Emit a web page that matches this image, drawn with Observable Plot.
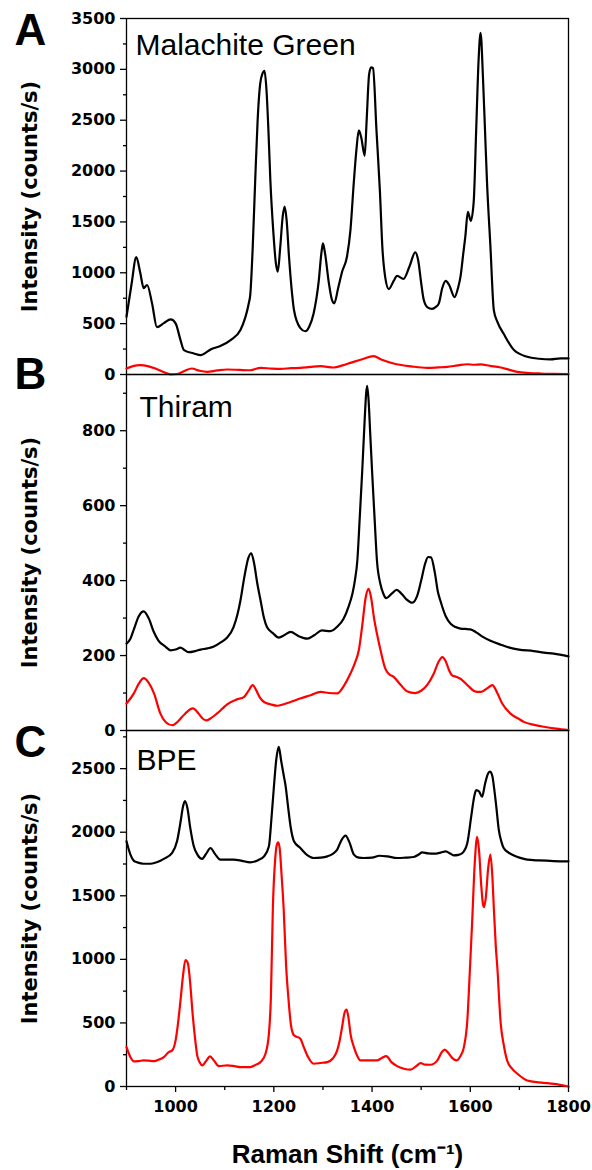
<!DOCTYPE html>
<html><head><meta charset="utf-8">
<script src="https://cdn.jsdelivr.net/npm/d3@7"></script>
<script src="https://cdn.jsdelivr.net/npm/@observablehq/plot@0.6"></script>
<style>
body{margin:0;background:#fff;}
#chart{position:relative;width:592px;height:1170px;}
</style></head><body><div id="chart"></div>
<script>
// ---- tick values ----
const xMajorTicks = [1000, 1200, 1400, 1600, 1800];
const xMinorTicks = [900, 1100, 1300, 1500, 1700];
const aMajorTicks = [0, 500, 1000, 1500, 2000, 2500, 3000, 3500];
const aMinorTicks = [250, 750, 1250, 1750, 2250, 2750, 3250];
const bMajorTicks = [0, 200, 400, 600, 800];
const bMinorTicks = [100, 300, 500, 700, 900];
const cMajorTicks = [0, 500, 1000, 1500, 2000, 2500];
const cMinorTicks = [250, 750, 1250, 1750, 2250, 2750];

// ---- panel labels ----
const panelLetters = ["A", "B", "C"];
const sampleNames = ["Malachite Green", "Thiram", "BPE"];
const yTitle = "Intensity (counts/s)";
const xTitle = "Raman Shift (cm\u207B\u00B9)";

// ---- spectra: [Raman shift, intensity] ----
const malachiteBlack = [[900,568],[910,880],[920,1154],[928,1000],[935,850],[942,880],[952,700],[962,465],[976,505],[990,542],[1000,503],[1010,338],[1017,240],[1037,207],[1051,190],[1061,213],[1071,246],[1091,279],[1112,338],[1132,437],[1149,700],[1152,782],[1157,1250],[1162,1900],[1167,2500],[1172,2850],[1177,2960],[1181,2985],[1185,2800],[1189,2400],[1193,1900],[1199,1400],[1204,1100],[1208,1010],[1213,1250],[1218,1550],[1222,1650],[1226,1520],[1231,1150],[1237,800],[1241,634],[1254,456],[1264,425],[1272,470],[1281,600],[1291,900],[1297,1200],[1300,1290],[1304,1200],[1312,900],[1318,740],[1323,700],[1331,850],[1339,1010],[1349,1160],[1356,1420],[1363,1900],[1368,2200],[1373,2400],[1378,2330],[1385,2150],[1389,2500],[1394,2950],[1398,3020],[1402,3010],[1409,2400],[1416,1800],[1421,1250],[1427,950],[1434,840],[1444,920],[1451,970],[1464,940],[1476,1060],[1488,1200],[1494,1120],[1500,900],[1505,740],[1513,660],[1522,645],[1530,665],[1536,700],[1543,850],[1550,920],[1557,880],[1568,760],[1575,850],[1580,960],[1586,1200],[1590,1360],[1595,1600],[1601,1510],[1607,1700],[1612,2400],[1617,3100],[1621,3360],[1626,2900],[1630,2400],[1634,1900],[1641,1260],[1648,630],[1655,520],[1668,400],[1689,240],[1716,174],[1740,155],[1763,148],[1784,158],[1800,158]];
const malachiteRed = [[900,59],[915,85],[928,92],[945,80],[959,59],[975,25],[990,2],[1003,5],[1018,35],[1033,59],[1048,38],[1064,26],[1085,40],[1105,49],[1130,45],[1152,42],[1173,65],[1195,58],[1214,55],[1235,62],[1254,65],[1275,75],[1295,82],[1322,69],[1340,90],[1356,114],[1380,150],[1403,180],[1420,145],[1444,108],[1480,80],[1512,65],[1535,70],[1553,75],[1575,90],[1594,101],[1608,96],[1621,99],[1640,85],[1662,69],[1680,45],[1696,26],[1720,15],[1743,10],[1770,7],[1800,5]];
const thiramBlack = [[900,232],[908,245],[915,270],[925,305],[935,318],[945,300],[955,265],[965,240],[978,225],[990,214],[1000,216],[1010,221],[1018,215],[1027,209],[1040,212],[1051,216],[1065,219],[1078,224],[1092,235],[1105,248],[1118,276],[1126,310],[1132,347],[1140,410],[1148,460],[1154,473],[1160,445],[1166,395],[1173,347],[1180,300],[1186,276],[1198,260],[1210,248],[1222,255],[1234,263],[1250,252],[1268,245],[1283,255],[1298,267],[1315,265],[1330,278],[1342,298],[1352,330],[1360,365],[1365,400],[1370,453],[1375,570],[1380,693],[1385,830],[1388,900],[1390,920],[1393,880],[1396,800],[1400,693],[1405,570],[1410,453],[1417,391],[1423,365],[1429,353],[1440,365],[1450,375],[1460,365],[1470,350],[1482,341],[1492,360],[1500,400],[1508,445],[1514,463],[1520,462],[1528,420],[1534,370],[1539,347],[1550,305],[1560,285],[1570,276],[1580,272],[1590,271],[1600,270],[1612,262],[1624,251],[1640,240],[1662,229],[1680,221],[1699,216],[1729,212],[1750,208],[1770,205],[1800,198]];
const thiramRed = [[900,72],[915,99],[925,125],[935,140],[945,128],[956,99],[969,45],[980,22],[993,14],[1003,22],[1013,36],[1025,52],[1035,59],[1047,45],[1055,32],[1062,27],[1072,33],[1084,45],[1095,58],[1105,70],[1125,83],[1139,89],[1148,105],[1157,121],[1165,105],[1172,87],[1180,76],[1193,70],[1207,66],[1220,70],[1234,76],[1255,86],[1275,94],[1295,103],[1312,100],[1329,99],[1343,120],[1356,152],[1365,180],[1373,214],[1380,280],[1387,355],[1393,378],[1398,355],[1404,300],[1410,258],[1418,210],[1427,165],[1435,150],[1444,143],[1458,122],[1471,105],[1488,100],[1500,106],[1512,121],[1525,150],[1535,182],[1543,196],[1550,185],[1557,160],[1563,147],[1572,143],[1580,138],[1595,120],[1607,106],[1614,103],[1622,103],[1635,113],[1645,121],[1655,100],[1665,72],[1682,45],[1700,30],[1709,23],[1730,15],[1750,10],[1775,5],[1800,1]];
const bpeBlack = [[900,1929],[908,1824],[915,1775],[922,1763],[935,1752],[949,1752],[963,1765],[976,1790],[993,1837],[1003,1930],[1010,2080],[1015,2200],[1019,2244],[1024,2190],[1030,2030],[1037,1889],[1045,1820],[1054,1790],[1062,1830],[1071,1876],[1080,1830],[1091,1784],[1105,1784],[1118,1784],[1135,1775],[1152,1763],[1168,1780],[1180,1810],[1190,1889],[1195,2100],[1200,2350],[1205,2573],[1210,2671],[1215,2560],[1220,2450],[1224,2363],[1229,2200],[1234,2047],[1241,1929],[1254,1876],[1268,1820],[1281,1797],[1295,1800],[1309,1810],[1320,1830],[1329,1863],[1338,1940],[1346,1973],[1354,1920],[1363,1824],[1373,1800],[1383,1797],[1400,1800],[1415,1815],[1431,1810],[1451,1797],[1468,1800],[1485,1805],[1495,1825],[1502,1842],[1514,1833],[1526,1831],[1540,1840],[1550,1850],[1560,1830],[1566,1818],[1576,1822],[1584,1837],[1594,1916],[1602,2126],[1608,2280],[1612,2331],[1618,2320],[1624,2279],[1630,2380],[1636,2460],[1640,2476],[1645,2440],[1648,2363],[1653,2200],[1658,2021],[1663,1930],[1668,1876],[1678,1840],[1689,1816],[1700,1800],[1716,1784],[1740,1778],[1770,1773],[1800,1771]];
const bpeRed = [[900,310],[908,231],[915,197],[925,200],[935,205],[945,203],[956,200],[966,212],[976,231],[986,271],[993,284],[1000,363],[1005,500],[1010,679],[1015,870],[1020,995],[1025,968],[1030,800],[1034,600],[1039,400],[1044,245],[1049,190],[1054,166],[1062,200],[1070,237],[1078,205],[1088,160],[1105,166],[1120,160],[1132,153],[1152,153],[1163,170],[1173,192],[1183,258],[1190,416],[1194,700],[1198,1400],[1203,1800],[1206,1900],[1209,1921],[1212,1870],[1216,1650],[1220,1400],[1225,950],[1230,679],[1235,480],[1241,403],[1254,376],[1261,310],[1270,230],[1281,179],[1295,185],[1309,192],[1320,220],[1329,284],[1334,360],[1339,468],[1344,580],[1348,605],[1352,540],[1356,416],[1363,310],[1370,240],[1376,205],[1395,205],[1410,205],[1420,225],[1429,239],[1440,190],[1451,160],[1465,140],[1478,132],[1490,160],[1499,184],[1508,172],[1519,171],[1533,205],[1542,270],[1548,290],[1555,265],[1563,225],[1572,205],[1580,240],[1587,310],[1594,521],[1599,900],[1604,1310],[1609,1750],[1614,1963],[1618,1850],[1622,1600],[1626,1430],[1628,1411],[1632,1500],[1636,1700],[1641,1824],[1645,1650],[1648,1400],[1652,1100],[1655,942],[1662,495],[1668,330],[1675,205],[1685,140],[1696,100],[1716,47],[1740,32],[1757,26],[1780,15],[1800,0]];

const xDomain = [900, 1800];

function rows(pairs) { return pairs.map(([x, y]) => ({shift: x, intensity: y})); }

function makePanel(o) {
  const marks = [
    Plot.frame({stroke: "black", strokeWidth: 1.3}),
    Plot.axisY(o.yMajor, {tickSize: 6, tickPadding: 5, tickFormat: d => String(d), strokeWidth: 1.3, label: null}),
    Plot.axisY(o.yMinor, {tickSize: 3, tickFormat: () => "", strokeWidth: 1.3, label: null}),
    Plot.line(rows(o.black), {x: "shift", y: "intensity", stroke: "black", strokeWidth: 2.2, curve: "monotone-x"}),
    Plot.line(rows(o.red), {x: "shift", y: "intensity", stroke: "#ff0000", strokeWidth: 2.2, curve: "monotone-x"}),
    Plot.text([o.letter], {text: d => d, frameAnchor: "top-left", textAnchor: "start", lineAnchor: "top",
      dx: -112, dy: o.letterDy, fontSize: 44, fontWeight: "bold", fontFamily: "Liberation Sans, Arial, sans-serif"}),
    Plot.text([o.name], {text: d => d, frameAnchor: "top-left", textAnchor: "start", lineAnchor: "top",
      dx: o.nameDx, dy: o.nameDy, fontSize: 30, fontWeight: "normal", fontFamily: "Liberation Sans, Arial, sans-serif"}),
    Plot.text([yTitle], {text: d => d, frameAnchor: "left", textAnchor: "middle", lineAnchor: "middle", rotate: -90, dx: -96,
      fontSize: 21, fontWeight: "bold", fontFamily: "DejaVu Sans, sans-serif"})
  ];
  if (o.showX) {
    marks.push(
      Plot.axisX(xMajorTicks, {tickSize: 6, tickPadding: 8, tickFormat: d => String(d), strokeWidth: 1.3, label: null}),
      Plot.axisX(xMinorTicks, {tickSize: 4, tickFormat: () => "", strokeWidth: 1.3, label: null}),
      Plot.text([xTitle], {text: d => d, frameAnchor: "bottom", textAnchor: "middle", lineAnchor: "bottom", dy: 76,
        fontSize: 26, fontWeight: "bold", fontFamily: "Liberation Sans, Arial, sans-serif"})
    );
  }
  const svg = Plot.plot({
    width: 592, height: o.height,
    marginTop: o.marginTop, marginBottom: o.marginBottom, marginLeft: 126, marginRight: 24,
    x: o.showX ? {domain: xDomain, label: null} : {domain: xDomain, axis: null, label: null},
    y: {domain: o.yDomain, label: null},
    style: {background: "transparent", overflow: "visible", fontFamily: "DejaVu Sans, sans-serif",
      fontSize: "16px", fontWeight: "bold", color: "black"},
    marks
  });
  svg.style.position = "absolute";
  svg.style.left = "0px";
  svg.style.top = o.top + "px";
  document.getElementById("chart").appendChild(svg);
}

makePanel({top: 0, height: 374, marginTop: 18, marginBottom: 0, yDomain: [0, 3500],
  yMajor: aMajorTicks, yMinor: aMinorTicks, black: malachiteBlack, red: malachiteRed,
  letter: panelLetters[0], letterDy: -5, name: sampleNames[0], nameDx: 9, nameDy: 15, showX: false});
makePanel({top: 374, height: 356, marginTop: 0, marginBottom: 0, yDomain: [0, 950],
  yMajor: bMajorTicks, yMinor: bMinorTicks, black: thiramBlack, red: thiramRed,
  letter: panelLetters[1], letterDy: -17, name: sampleNames[1], nameDx: 13, nameDy: 21, showX: false});
makePanel({top: 730, height: 440, marginTop: 0, marginBottom: 84, yDomain: [0, 2800],
  yMajor: cMajorTicks, yMinor: cMinorTicks, black: bpeBlack, red: bpeRed,
  letter: panelLetters[2], letterDy: -5, name: sampleNames[2], nameDx: 10, nameDy: 18, showX: true});
</script></body></html>
